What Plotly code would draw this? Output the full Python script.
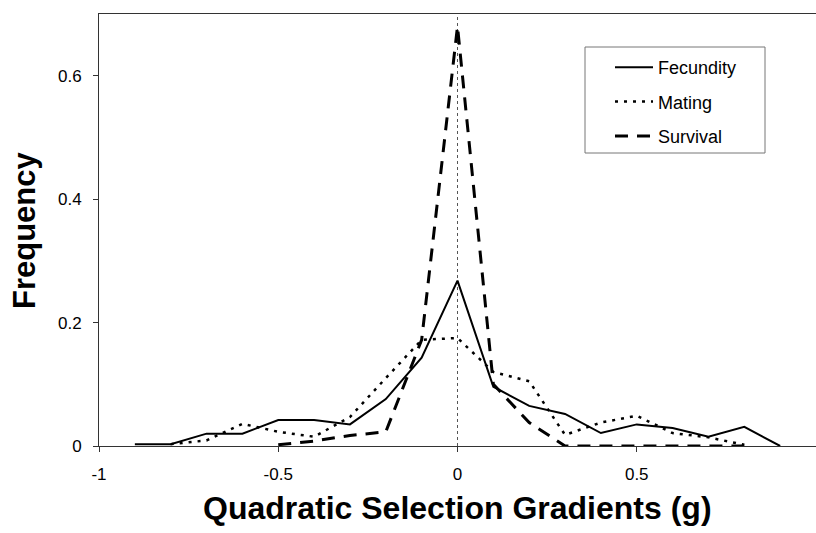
import plotly.graph_objects as go

# ---- data ----
x_fec = [-0.9, -0.8, -0.7, -0.6, -0.5, -0.4, -0.3, -0.2, -0.1, 0.0,
         0.1, 0.2, 0.3, 0.4, 0.5, 0.6, 0.7, 0.8, 0.9]
fecundity = [0.003, 0.003, 0.020, 0.020, 0.042, 0.042, 0.035, 0.076, 0.143, 0.268,
             0.096, 0.065, 0.052, 0.021, 0.035, 0.029, 0.015, 0.031, 0.0]

x_mat = [-0.8, -0.7, -0.6, -0.5, -0.4, -0.3, -0.2, -0.1, 0.0,
         0.1, 0.2, 0.3, 0.4, 0.5, 0.6, 0.7, 0.8]
mating = [0.003, 0.009, 0.036, 0.023, 0.015, 0.047, 0.110, 0.172, 0.175,
          0.120, 0.105, 0.018, 0.038, 0.049, 0.021, 0.014, 0.002]

x_surv = [-0.5, -0.4, -0.3, -0.2, -0.1, 0.0, 0.1, 0.2, 0.3, 0.4, 0.5, 0.6, 0.7, 0.8]
survival = [0.002, 0.008, 0.017, 0.023, 0.172, 0.680, 0.100, 0.038, 0.0, 0.0, 0.0, 0.0, 0.0, 0.0]

x_ticks = [-1, -0.5, 0, 0.5, 1]
x_tick_labels = ["-1", "-0.5", "0", "0.5", "1"]
y_ticks = [0, 0.2, 0.4, 0.6]
y_tick_labels = ["0", "0.2", "0.4", "0.6"]

FONT = "Liberation Sans, Arial, sans-serif"

W, H = 816, 533
PL, PR, PT, PB = 99, 816, 14, 446   # plot area in screen pixels
PW, PH = PR - PL, PB - PT


def px(xs):
    return (xs - PL) / PW


def py(ys):
    return (PB - ys) / PH


fig = go.Figure()
fig.add_trace(go.Scatter(x=x_fec, y=fecundity, mode="lines", name="Fecundity",
                         legendgroup="a",
                         line=dict(color="black", width=2, dash="solid")))
fig.add_trace(go.Scatter(x=x_mat, y=mating, mode="lines", name="Mating",
                         legendgroup="b",
                         line=dict(color="black", width=2.5, dash="3px,6px")))
fig.add_trace(go.Scatter(x=x_surv, y=survival, mode="lines", name="Survival",
                         legendgroup="c",
                         line=dict(color="black", width=3, dash="13px,9px")))

# vertical dotted line at zero
fig.add_shape(type="line", xref="x", yref="y", x0=0, x1=0, y0=0, y1=0.7,
              line=dict(color="#555", width=1, dash="dot"), layer="below")

# legend box
fig.add_shape(type="rect", xref="paper", yref="paper",
              x0=px(585), x1=px(765), y0=py(153), y1=py(47),
              line=dict(color="#777", width=1), fillcolor="rgba(0,0,0,0)")

fig.update_layout(
    width=W, height=H,
    margin=dict(l=PL, r=W - PR, t=PT, b=H - PB, autoexpand=False),
    paper_bgcolor="white", plot_bgcolor="white",
    font=dict(family=FONT, color="black"),
    showlegend=True,
    legend=dict(x=px(610), y=py(49), xanchor="left", yanchor="top",
                bgcolor="rgba(0,0,0,0)", borderwidth=0,
                font=dict(size=18, family=FONT), tracegroupgap=8,
                traceorder="grouped", itemwidth=38),
    xaxis=dict(range=[-1, 1], tickvals=x_ticks, ticktext=x_tick_labels,
               showgrid=False, zeroline=False, showline=True, linecolor="#333",
               linewidth=1, mirror=True, ticks="outside", ticklen=5, tickcolor="#333",
               tickfont=dict(size=17), ticklabelstandoff=8, automargin=False),
    yaxis=dict(range=[0, 0.7], tickvals=y_ticks, ticktext=y_tick_labels,
               showgrid=False, zeroline=False, showline=True, linecolor="#333",
               linewidth=1, ticks="outside", ticklen=5, tickcolor="#333",
               tickfont=dict(size=17), ticklabelstandoff=8, automargin=False),
    annotations=[
        dict(text="<b>Quadratic Selection Gradients (g)</b>", xref="paper", yref="paper",
             x=px(457), y=py(508), xanchor="center", yanchor="middle",
             showarrow=False, font=dict(size=32, family=FONT)),
        dict(text="<b>Frequency</b>", xref="paper", yref="paper",
             x=px(24), y=py(230), xanchor="center", yanchor="middle",
             textangle=-90, showarrow=False, font=dict(size=31, family=FONT)),
    ],
)

fig.write_html(
    "out.html",
    config={"displayModeBar": False},
    post_script="document.body.style.margin='0';document.body.style.overflow='hidden';",
)
